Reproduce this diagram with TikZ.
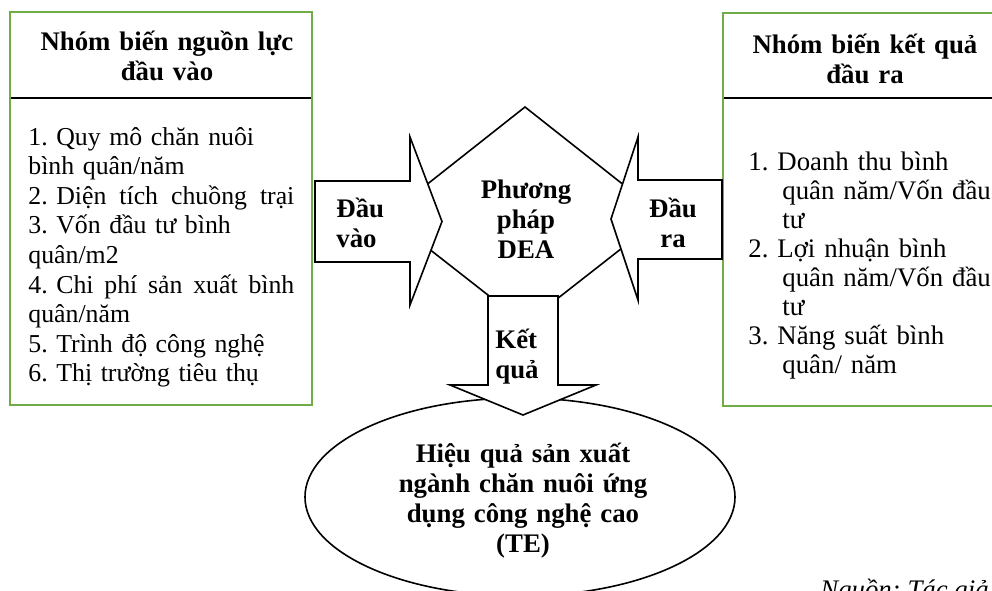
\documentclass[tikz,border=0pt]{standalone}
\usepackage{fontspec}
\setmainfont{Liberation Serif}
\definecolor{boxgreen}{RGB}{112,173,71}
\frenchspacing
\begin{document}
\begin{tikzpicture}[x=0.5pt,y=-0.5pt,
  greenbox/.style={draw=boxgreen,line width=1.3pt},
  sepline/.style={draw=black,line width=0.6pt},
  blockshape/.style={draw=black,fill=white,line width=0.8pt,line join=miter},
  hdr/.style={font=\fontsize{13.4}{15}\selectfont\bfseries,inner sep=0pt,align=center,anchor=base},
  bodytxt/.style={font=\fontsize{13.4}{14.8}\selectfont,inner sep=0pt,align=left,anchor=base west},
  lbl/.style={font=\fontsize{13.4}{15}\selectfont\bfseries,inner sep=0pt}]
\useasboundingbox (0,0) rectangle (992,590);
% boxes
\draw[sepline] (10,98) -- (312,98);
\draw[greenbox] (10,12) rectangle (312,405);
\draw[sepline] (723,98) -- (1000,98);
\draw[greenbox] (723,13) rectangle (1000,406);
% central diamond
\draw[blockshape] (525,107) -- (663,216) -- (525,324) -- (387,216) -- cycle;
% ellipse
\draw[blockshape] (520,497) ellipse [x radius=107.5pt, y radius=49.5pt];
% arrows
\draw[blockshape] (315,181) -- (410,181) -- (410,137) -- (442,221.5) -- (410,305) -- (410,262) -- (315,262) -- cycle;
\draw[blockshape] (722,180) -- (638,180) -- (638,137) -- (611,219) -- (638,300) -- (638,259) -- (722,259) -- cycle;
\draw[blockshape] (488,296) -- (488,385) -- (450,385) -- (523,415) -- (596,385) -- (558,385) -- (558,296) -- cycle;
% texts
\node[hdr,text width=150pt] (lhead) at (167,50) {Nhóm biến nguồn lực\\đầu vào};
\node[hdr,text width=140pt] (rhead) at (865,53) {Nhóm biến kết quả\\đầu ra};
\node[bodytxt,text width=134pt,font=\fontsize{12.9}{14.8}\selectfont] (lbody) at (28,145) {1. Quy mô chăn nuôi\\bình quân/năm\\\leavevmode\hbox to 133pt{2. Diện\hfill tích\hfill chuồng\hfill trại}\\3. Vốn đầu tư bình\\quân/m2\\\leavevmode\hbox to 133pt{4. Chi\hfill phí\hfill sản\hfill xuất\hfill bình}\\quân/năm\\5. Trình độ công nghệ\\6. Thị trường tiêu thụ};
\node[bodytxt,text width=126pt,font=\fontsize{13.4}{14.5}\selectfont] (rbody) at (748,170) {1. Doanh thu bình\\\hspace*{17pt}quân năm/Vốn đầu\\\hspace*{17pt}tư\\2. Lợi nhuận bình\\\hspace*{17pt}quân năm/Vốn đầu\\\hspace*{17pt}tư\\3. Năng suất bình\\\hspace*{17pt}quân/ năm};
\node[lbl,align=center,text width=60pt,anchor=base] (dea) at (526,198) {Phương\\pháp\\DEA};
\node[lbl,align=left,text width=40pt,anchor=base west] (invl) at (336,217) {Đầu\\vào};
\node[lbl,align=center,text width=40pt,anchor=base] (outl) at (673,217) {Đầu\\ra};
\node[lbl,align=left,text width=35pt,anchor=base west] (resl) at (495,348) {Kết\\quả};
\node[lbl,align=center,text width=130pt,anchor=base] (te) at (523,462) {Hiệu quả sản xuất\\ngành chăn nuôi ứng\\dụng công nghệ cao\\(TE)};
\node[font=\fontsize{13.4}{15}\selectfont\itshape,inner sep=0pt,anchor=base west] (src) at (820,598) {Nguồn: Tác giả};
\end{tikzpicture}
\end{document}
